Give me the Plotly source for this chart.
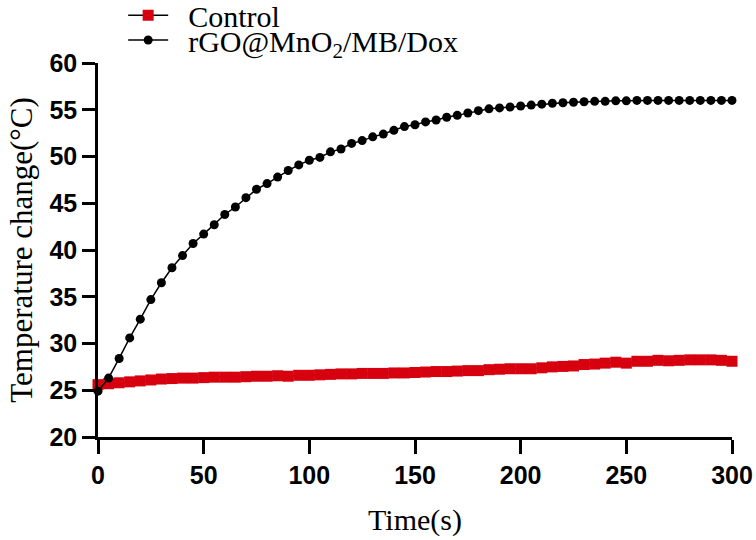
import plotly.graph_objects as go

time_s = list(range(0, 301, 5))

control = [25.6, 25.7, 25.8, 25.9, 26.0, 26.1, 26.2, 26.25, 26.3, 26.3,
           26.35, 26.4, 26.4, 26.4, 26.45, 26.5, 26.5, 26.55, 26.5, 26.6,
           26.6, 26.65, 26.7, 26.75, 26.75, 26.8, 26.8, 26.8, 26.85, 26.85,
           26.9, 26.95, 27.0, 27.0, 27.05, 27.1, 27.1, 27.2, 27.25, 27.3,
           27.3, 27.3, 27.4, 27.5, 27.55, 27.6, 27.75, 27.8, 27.9, 28.0,
           27.9, 28.1, 28.1, 28.2, 28.15, 28.2, 28.25, 28.25, 28.25, 28.2,
           28.1]

rgo = [24.9, 26.3, 28.4, 30.6, 32.6, 34.7, 36.5, 38.1, 39.4, 40.7,
       41.7, 42.7, 43.8, 44.6, 45.6, 46.5, 47.1, 47.8, 48.5, 49.1,
       49.6, 49.9, 50.5, 50.8, 51.4, 51.7, 52.1, 52.4, 52.8, 53.2,
       53.4, 53.7, 53.9, 54.2, 54.4, 54.65, 54.9, 55.1, 55.2, 55.3,
       55.4, 55.5, 55.6, 55.7, 55.75, 55.8, 55.85, 55.9, 55.9, 55.95,
       55.95, 56.0, 56.0, 56.0, 56.0, 56.0, 56.0, 56.0, 56.0, 56.0,
       56.0]

x_ticks = [0, 50, 100, 150, 200, 250, 300]
y_ticks = [20, 25, 30, 35, 40, 45, 50, 55, 60]

names = ["Control", "rGO@MnO<sub>2</sub>/MB/Dox"]
red = "#d7000e"
nb = "\u00a0\u00a0"

serif = "Liberation Serif, Times New Roman, serif"
sans = "Liberation Sans, Arial, sans-serif"
legend_font = dict(family=serif, size=30, color="black")

fig = go.Figure()
fig.add_trace(go.Scatter(
    x=time_s, y=control, mode="lines+markers", name=nb + names[0],
    line=dict(color="black", width=1.5),
    marker=dict(symbol="square", size=11, color=red),
    cliponaxis=False, legend="legend3", showlegend=True))
fig.add_trace(go.Scatter(
    x=time_s, y=rgo, mode="lines+markers", name=nb + names[1],
    line=dict(color="black", width=1.5),
    marker=dict(symbol="circle", size=9, color="black"),
    cliponaxis=False, legend="legend2", showlegend=True))

fig.update_layout(
    width=756, height=540,
    showlegend=True,
    font=dict(family=serif, size=30, color="black"),
    margin=dict(l=98, r=24, t=63, b=103, autoexpand=False),
    plot_bgcolor="white", paper_bgcolor="white",
    legend3=dict(x=0.0397, y=1.128, xanchor="left", yanchor="middle",
                 font=legend_font,
                 bgcolor="rgba(0,0,0,0)", itemwidth=40, visible=True),
    legend2=dict(x=0.0397, y=1.0615, xanchor="left", yanchor="middle",
                 font=legend_font,
                 bgcolor="rgba(0,0,0,0)", itemwidth=40, visible=True),
    xaxis=dict(range=[0, 300], tickvals=x_ticks, ticktext=[str(v) for v in x_ticks],
               showline=True, linecolor="black", linewidth=2.5,
               ticks="outside", ticklen=14, tickwidth=2.5, tickcolor="black",
               showgrid=False, zeroline=False, automargin=False,
               tickfont=dict(family=sans, size=25, color="black", weight="bold"),
               title=dict(text="Time(s)", font=dict(family=serif, size=30, color="black"),
                          standoff=22)),
    yaxis=dict(range=[20, 60], tickvals=y_ticks, ticktext=[str(v) for v in y_ticks],
               showline=True, linecolor="black", linewidth=2.5,
               ticks="outside", ticklen=13, tickwidth=2.5, tickcolor="black",
               showgrid=False, zeroline=False, automargin=False,
               tickfont=dict(family=sans, size=25, color="black", weight="bold"),
               title=dict(text="Temperature change(°C)",
                          font=dict(family=serif, size=31, color="black"),
                          standoff=8)),
)

fig.write_html("out.html", config={"displayModeBar": False},
               post_script="document.body.style.margin='0';")
